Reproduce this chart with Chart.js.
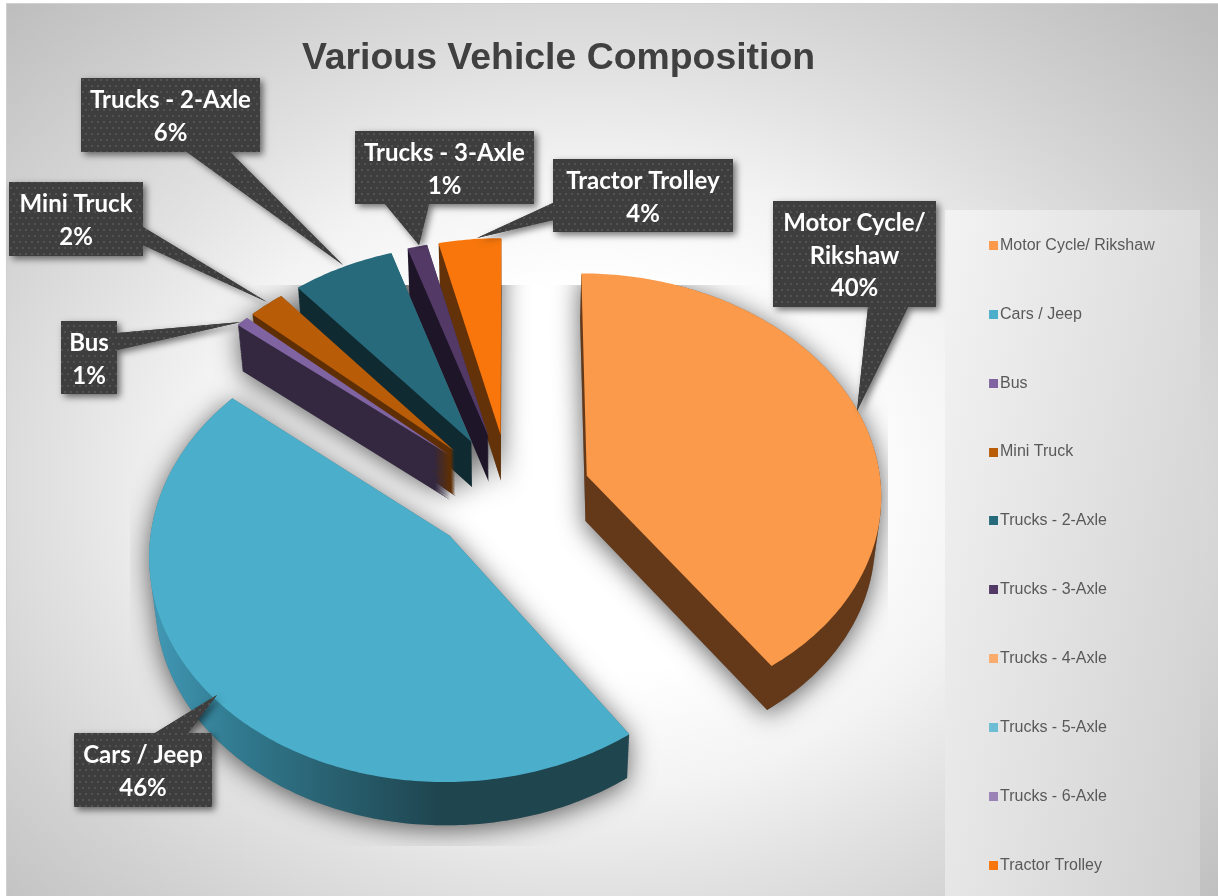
<!DOCTYPE html>
<html>
<head>
<meta charset="utf-8">
<style>
html,body{margin:0;padding:0;background:#fff;overflow:hidden}
#wrap{position:absolute;left:0;top:0;width:1218px;height:896px}
canvas{display:block}
</style>
<script src="https://cdn.jsdelivr.net/npm/chart.js@4"></script>
</head>
<body>
<div id="wrap"><canvas id="c" width="1218" height="896"></canvas></div>
<script>
// ---- data ----
const chartTitle = 'Various Vehicle Composition';
const categories = ['Motor Cycle/ Rikshaw','Cars / Jeep','Bus','Mini Truck','Trucks - 2-Axle','Trucks - 3-Axle','Trucks - 4-Axle','Trucks - 5-Axle','Trucks - 6-Axle','Tractor Trolley'];
const shares = [40.25,45.7,0.75,2.2,6.15,1.2,0,0,0,3.75];
// ---- styles ----
const topColors  = ['#FB9A4B','#4BAECA','#8064A2','#B85C08','#276A7C','#533A66','#FAAB6E','#6DBDD4','#9A82B7','#F8760B'];
const sideColors = ['#643919','#2F7488','#332840','#5E2F05','#102A31','#1E1529','#643919','#2F7488','#332840','#633208'];
const labelLines = {0:['Motor Cycle/','Rikshaw']};
// ---- layout ----
const PIE = {cx:510, cy:494, k:0.748, p:0.00026, depth:45, radius:295, explode:81};
const callouts = {
  0:{box:[773,201,163,106], base:[[868,307],[908,307]], tip:[857,411]},
  1:{box:[74,733,138,74],   base:[[155,733],[188,733]], tip:[217,695]},
  2:{box:[61,321,56,73],    base:[[117,333],[117,350]], tip:[241,322]},
  3:{box:[9,182,134,74],    base:[[143,227],[143,245]], tip:[267,302]},
  4:{box:[81,78,179,74],    base:[[187,152],[230,152]], tip:[343,265]},
  5:{box:[355,131,179,73],  base:[[385,204],[429,204]], tip:[419,245]},
  9:{box:[553,159,180,73],  base:[[553,203],[553,220]], tip:[477,238]}
};
const drawOrder = [9,8,7,6,5,4,3,2,1,0];

function project(X,Y,z){
  const f = 1/(1-PIE.p*Y);
  const shrink = 1-0.017*z/PIE.depth;
  return [PIE.cx+X*f*shrink, PIE.cy+PIE.k*Y*f+z*(1-Y*0.00011)];
}
function slicePoints(el,z){
  const a0=el.startAngle, a1=el.endAngle, mid=(a0+a1)/2, e=el.options.offset, r=el.outerRadius;
  const ox=Math.cos(mid)*e, oy=Math.sin(mid)*e;
  const pts=[project(ox,oy,z)];
  const n=Math.max(6,Math.ceil((a1-a0)/0.015));
  for(let i=0;i<=n;i++){
    const a=a0+(a1-a0)*i/n;
    pts.push(project(ox+Math.cos(a)*r,oy+Math.sin(a)*r,z));
  }
  return pts;
}
function tracePoly(ctx,pts){
  pts.forEach((p,i)=> i?ctx.lineTo(p[0],p[1]):ctx.moveTo(p[0],p[1]));
  ctx.closePath();
}
function dotPattern(ctx){
  const c=document.createElement('canvas');c.width=12;c.height=12;
  const g=c.getContext('2d');
  g.fillStyle='#3E3E3E';g.fillRect(0,0,12,12);
  g.fillStyle='#525252';
  [[1,1],[7,1],[4,7],[10,7]].forEach(p=>g.fillRect(p[0],p[1],2,2));
  return ctx.createPattern(c,'repeat');
}
function backdrop(ctx){
  ctx.fillStyle='#fff';ctx.fillRect(0,0,1218,896);
  ctx.fillStyle='#D0D0D0';ctx.fillRect(6,3,1212,893);
  ctx.save();
  ctx.beginPath();ctx.rect(7,4,1211,892);ctx.clip();
  ctx.translate(590,480);ctx.scale(1,1/1.3);
  const g=ctx.createRadialGradient(0,0,0,0,0,900);
  [[0,'#ffffff'],[.28,'#ffffff'],[.45,'#f3f3f3'],[.59,'#e2e2e2'],[.72,'#d4d4d4'],[.95,'#bdbdbd'],[1,'#bababa']].forEach(s=>g.addColorStop(s[0],s[1]));
  ctx.fillStyle=g;ctx.fillRect(-1000,-1000,2000,2000);
  ctx.restore();
  const pg=ctx.createLinearGradient(945,210,1324,287);
  pg.addColorStop(0,'#f3f3f3');pg.addColorStop(1,'#d0d0d0');
  ctx.fillStyle=pg;ctx.fillRect(945,210,255,686);
}
const pie3d = {
  id:'pie3d',
  beforeDraw(chart){ backdrop(chart.ctx); },
  afterLayout(chart){
    const lg=chart.legend, t=chart.titleBlock;
    const P=lg.options.labels.padding, h=lg.height, w=lg.width;
    lg.left=992-P; lg.right=lg.left+w; lg.top=245.5-8-P; lg.bottom=lg.top+h;
    t.left=0; t.right=1117; t.top=59-t.height/2; t.bottom=t.top+t.height;
  },
  beforeDatasetDraw(chart,args){
    const ctx=chart.ctx, arcs=args.meta.data.filter(e=>e.circumference>0);
    const sorted=drawOrder.map(i=>args.meta.data[i]).filter(e=>e.circumference>0);
    // soft shadow of the whole silhouette, clipped like the reference
    ctx.save();
    ctx.beginPath();ctx.rect(130,285,758,561);ctx.clip();
    ctx.beginPath();
    arcs.forEach(el=>{ for(let z=0;z<=PIE.depth;z+=3) tracePoly(ctx,slicePoints(el,z)); });
    ctx.shadowColor='rgba(0,0,0,0.62)';ctx.shadowBlur=26;ctx.shadowOffsetX=0;ctx.shadowOffsetY=4;
    ctx.fillStyle='#777';ctx.fill();
    ctx.restore();
    // extruded slices
    sorted.forEach(el=>{
      const i=args.meta.data.indexOf(el);
      let side=sideColors[i];
      if(i===1){
        const g=ctx.createLinearGradient(150,0,440,0);
        g.addColorStop(0,'#4299B6');g.addColorStop(.3,'#317A8F');g.addColorStop(.65,'#285F6E');g.addColorStop(1,'#1F454F');
        side=g;
      }
      ctx.fillStyle=side;
      ctx.beginPath();
      for(let z=PIE.depth;z>=1;z--) tracePoly(ctx,slicePoints(el,z));
      ctx.fill();
      ctx.fillStyle=el.options.backgroundColor;
      ctx.beginPath();tracePoly(ctx,slicePoints(el,0));ctx.fill();
    });
    return false;
  },
  afterDatasetsDraw(chart){
    const ctx=chart.ctx, pat=dotPattern(ctx), total=shares.reduce((a,b)=>a+b,0);
    Object.keys(callouts).forEach(key=>{
      const i=+key, c=callouts[i], [x,y,w,h]=c.box;
      ctx.save();
      ctx.shadowColor='rgba(0,0,0,0.55)';ctx.shadowBlur=7;ctx.shadowOffsetX=3;ctx.shadowOffsetY=3;
      ctx.fillStyle=pat;
      ctx.beginPath();ctx.moveTo(c.base[0][0],c.base[0][1]);ctx.lineTo(c.tip[0],c.tip[1]);ctx.lineTo(c.base[1][0],c.base[1][1]);ctx.closePath();
      ctx.rect(x,y,w,h);ctx.fill('nonzero');
      ctx.shadowColor='transparent';
      ctx.beginPath();ctx.moveTo(c.base[0][0],c.base[0][1]);ctx.lineTo(c.tip[0],c.tip[1]);ctx.lineTo(c.base[1][0],c.base[1][1]);ctx.closePath();ctx.fill();
      ctx.fillRect(x,y,w,h);
      const lines=(labelLines[i]||[categories[i]]).concat([Math.round(shares[i]/total*100)+'%']);
      ctx.fillStyle='#fff';ctx.font='bold 24px Lato';ctx.textAlign='center';ctx.textBaseline='middle';
      lines.forEach((t,n)=>ctx.fillText(t,x+w/2,y+22.5+n*32.3));
      ctx.restore();
    });
  }
};
function marker(color){
  const c=document.createElement('canvas');c.width=12;c.height=9;
  const g=c.getContext('2d');g.fillStyle=color;g.fillRect(3,0,9,9);
  return c;
}
const markers=topColors.map(marker);
new Chart(document.getElementById('c'),{
  type:'pie',
  data:{labels:categories,datasets:[{data:shares,backgroundColor:topColors,borderWidth:0,offset:PIE.explode,radius:PIE.radius}]},
  plugins:[pie3d],
  options:{
    responsive:false,animation:false,rotation:0,
    events:[],
    plugins:{
      tooltip:{enabled:false},
      title:{display:true,text:chartTitle,color:'#404040',padding:0,fullSize:false,font:{family:'"Liberation Sans"',size:37.4,weight:'bold'}},
      legend:{position:'right',align:'start',labels:{
        color:'#595959',font:{family:'"Liberation Sans"',size:16},padding:52.85,usePointStyle:true,pointStyleWidth:0.01,
        generateLabels(chart){
          return Chart.overrides.doughnut.plugins.legend.labels.generateLabels(chart).map((it,i)=>Object.assign(it,{pointStyle:markers[i],hidden:false}));
        }
      }}
    }
  }
});
</script>
</body>
</html>
